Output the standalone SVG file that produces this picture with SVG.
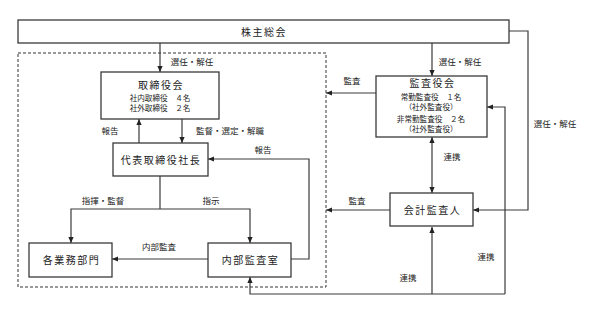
<svg xmlns="http://www.w3.org/2000/svg" width="591" height="313" viewBox="0 0 591 313">
<defs>
<style>
.box{fill:#fff;stroke:#3a3a3a;stroke-width:1.3}
.ln{fill:none;stroke:#3a3a3a;stroke-width:1.2}
.arr{marker-end:url(#a)}
.arrs{marker-start:url(#as)}
.dash{fill:none;stroke:#333;stroke-width:1;stroke-dasharray:3,2}
text{font-family:"Noto Sans CJK JP","Noto Sans",sans-serif;fill:#222;text-anchor:middle}
.t1{font-size:10px;letter-spacing:1.5px}
.t2{font-size:7.6px}
.lb{font-size:8.5px}
</style>
<marker id="a" viewBox="0 0 6 6" refX="6" refY="3" markerWidth="6" markerHeight="6" orient="auto" markerUnits="userSpaceOnUse"><path d="M0,0.4L6,3L0,5.6z" fill="#222"/></marker>
<marker id="as" viewBox="0 0 6 6" refX="0" refY="3" markerWidth="6" markerHeight="6" orient="auto" markerUnits="userSpaceOnUse"><path d="M6,0.4L0,3L6,5.6z" fill="#222"/></marker>
</defs>
<rect width="591" height="313" fill="#fff"/>
<rect class="dash" x="18" y="53" width="308" height="234"/>
<g id="connectors">
<path class="ln arr" d="M160,43V72"/>
<path class="ln arr" d="M432,43V76"/>
<path class="ln arr" d="M509,31H528V210H473"/>
<path class="ln arr" d="M139,143V119"/>
<path class="ln arr" d="M182,119V143"/>
<path class="ln" d="M160,176V209"/>
<path class="ln arr" d="M160,209H71V243"/>
<path class="ln arr" d="M160,209H250V243"/>
<path class="ln arr" d="M208,259H112"/>
<path class="ln arr" d="M291,259H309V159H208"/>
<path class="ln arr" d="M376,93H326"/>
<path class="ln arr" d="M390,210H326"/>
<path class="ln arr arrs" d="M432,137V193"/>
<path class="ln arr" d="M505,294V107H487"/>
<path class="ln arr" d="M505,294H250V277"/>
<path class="ln arr" d="M432,294V227"/>
<text class="lb" x="192" y="65">選任・解任</text>
<text class="lb" x="460" y="65">選任・解任</text>
<text class="lb" x="555" y="127">選任・解任</text>
<text class="lb" x="110" y="134">報告</text>
<text class="lb" x="230" y="134">監督・選定・解職</text>
<text class="lb" x="263" y="153">報告</text>
<text class="lb" x="103" y="204">指揮・監督</text>
<text class="lb" x="211" y="204">指示</text>
<text class="lb" x="159" y="250">内部監査</text>
<text class="lb" x="352" y="84">監査</text>
<text class="lb" x="357" y="204">監査</text>
<text class="lb" x="452" y="160">連携</text>
<text class="lb" x="486" y="260">連携</text>
<text class="lb" x="408" y="281">連携</text>
</g>
<g id="kabunushi">
<rect class="box" x="18" y="20" width="491" height="23"/>
<text class="t1" x="264" y="35.5">株主総会</text>
</g>
<g id="torishimariyakukai">
<rect class="box" x="101" y="72" width="118" height="47"/>
<text class="t1" x="161" y="89">取締役会</text>
<text class="t2" x="160" y="101">社内取締役　４名</text>
<text class="t2" x="160" y="111">社外取締役　２名</text>
</g>
<g id="daihyo">
<rect class="box" x="113" y="143" width="95" height="33"/>
<text class="t1" x="161" y="163.5">代表取締役社長</text>
</g>
<g id="kakugyomu">
<rect class="box" x="29" y="243" width="83" height="34"/>
<text class="t1" x="71.5" y="263.5">各業務部門</text>
</g>
<g id="naibukansa">
<rect class="box" x="208" y="243" width="83" height="34"/>
<text class="t1" x="250.5" y="263.5">内部監査室</text>
</g>
<g id="kansayakukai">
<rect class="box" x="376" y="76" width="111" height="61"/>
<text class="t1" x="432.5" y="86.5">監査役会</text>
<text class="t2" x="431" y="100">常勤監査役　１名</text>
<text class="t2" x="431" y="110">（社外監査役）</text>
<text class="t2" x="431" y="122">非常勤監査役　２名</text>
<text class="t2" x="431" y="132">（社外監査役）</text>
</g>
<g id="kaikeikansanin">
<rect class="box" x="390" y="193" width="83" height="33"/>
<text class="t1" x="432.5" y="213.5">会計監査人</text>
</g>
</svg>
